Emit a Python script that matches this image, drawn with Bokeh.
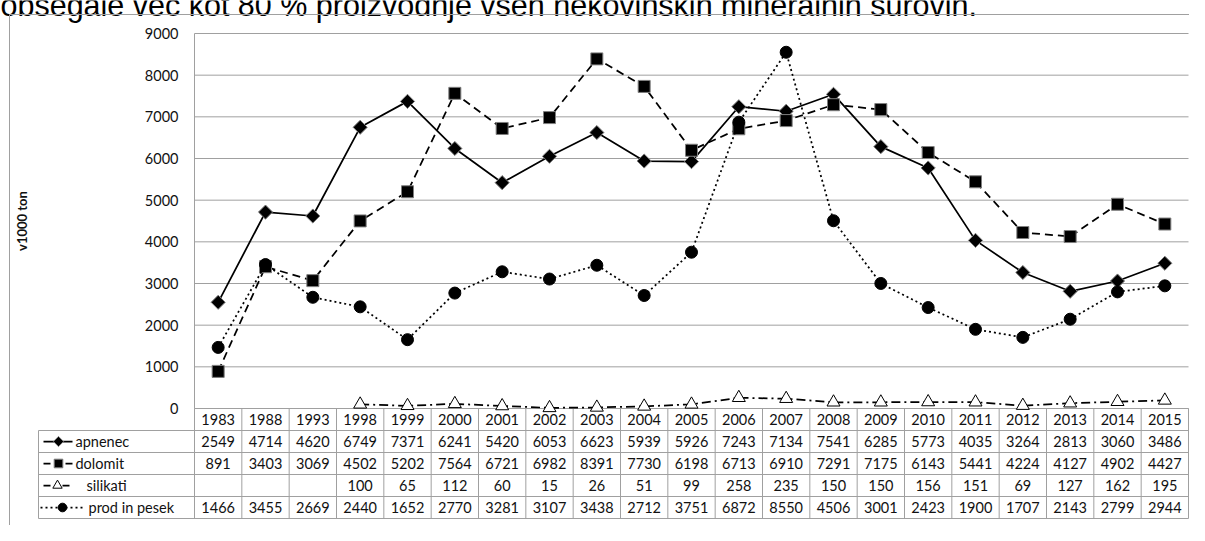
import numpy as np
from bokeh.plotting import figure
from bokeh.models import LinearAxis, FixedTicker, Range1d
from bokeh.core.properties import value
from bokeh.embed import file_html
from bokeh.resources import INLINE

# ---------------- data ----------------
years = ["1983", "1988", "1993", "1998", "1999", "2000", "2001", "2002", "2003", "2004",
         "2005", "2006", "2007", "2008", "2009", "2010", "2011", "2012", "2013", "2014", "2015"]
apnenec = [2549, 4714, 4620, 6749, 7371, 6241, 5420, 6053, 6623, 5939, 5926,
           7243, 7134, 7541, 6285, 5773, 4035, 3264, 2813, 3060, 3486]
dolomit = [891, 3403, 3069, 4502, 5202, 7564, 6721, 6982, 8391, 7730, 6198,
           6713, 6910, 7291, 7175, 6143, 5441, 4224, 4127, 4902, 4427]
silikati = [None, None, None, 100, 65, 112, 60, 15, 26, 51, 99,
            258, 235, 150, 150, 156, 151, 69, 127, 162, 195]
prod_in_pesek = [1466, 3455, 2669, 2440, 1652, 2770, 3281, 3107, 3438, 2712, 3751,
                 6872, 8550, 4506, 3001, 2423, 1900, 1707, 2143, 2799, 2944]
series_names = ["apnenec", "dolomit", "silikati", "prod in pesek"]
y_ticks = [0, 1000, 2000, 3000, 4000, 5000, 6000, 7000, 8000, 9000]
y_label = "v1000 ton"
caption = "obsegale več kot 80 % proizvodnje vseh nekovinskih mineralnih surovin."

# ---------------- layout (canvas pixels) ----------------
W, H = 1189, 525
COL_L, COL_R = 194, 1188
NCOL = len(years)
CW = (COL_R - COL_L) / NCOL
Y0_PX, Y9_PX = 408, 33
PPU = (Y0_PX - Y9_PX) / 9000.0


def X(px):
    return -0.5 + (px - COL_L) / CW


def Y(py):
    return (Y0_PX - py) / PPU


FONT = "Lato"
FS = "14.5px"
GRID = "#a0a0a0"
TXT = "#111111"

p = figure(width=W, height=H,
           x_range=Range1d(X(0), X(W)), y_range=Range1d(Y(H), Y(0)),
           output_backend="svg", toolbar_location=None,
           x_axis_location=None, y_axis_location=None, title=None,
           min_border=0, min_border_left=0, min_border_right=0,
           min_border_top=0, min_border_bottom=0,
           outline_line_color=None, background_fill_color="white",
           border_fill_color="white")
p.xgrid.visible = False
p.ygrid.visible = False

xs = list(range(NCOL))
top_val = y_ticks[-1]

# caption remnant (cut by the top edge, as in the reference) and outer chart border
p.text(x=[X(0)], y=[Y(4)], text=[caption], text_font=value("Liberation Sans"),
       text_font_size="30.5px", text_color="black", text_baseline="alphabetic",
       text_align="left")
p.segment(x0=[X(9), X(9)], y0=[Y(14), Y(14)], x1=[X(W), X(9)], y1=[Y(14), Y(H)],
          line_color=GRID, line_width=1)

# horizontal gridlines (plot area)
p.segment(x0=[-0.5] * len(y_ticks), x1=[NCOL - 0.5] * len(y_ticks),
          y0=y_ticks, y1=y_ticks, line_color=GRID, line_width=1)

# y axis
yaxis = LinearAxis(fixed_location=-0.5, ticker=FixedTicker(ticks=y_ticks),
                   bounds=(0, top_val), axis_label=y_label)
yaxis.axis_line_color = GRID
yaxis.major_tick_out = 0
yaxis.major_tick_in = 0
yaxis.minor_tick_out = 0
yaxis.minor_tick_in = 0
yaxis.major_label_standoff = 16
yaxis.major_label_text_font = FONT
yaxis.major_label_text_font_size = FS
yaxis.major_label_text_color = TXT
yaxis.axis_label_text_font = FONT
yaxis.axis_label_text_font_size = "13px"
yaxis.axis_label_text_font_style = "bold"
yaxis.axis_label_text_color = TXT
yaxis.axis_label_standoff = 112
p.add_layout(yaxis, "left")

# ---------------- data table ----------------
row_lines = [408, 430, 452, 474, 496, 518]
row_centers = [(row_lines[i] + row_lines[i + 1]) / 2 for i in range(5)]
LAB_L = 38
hx0 = [X(COL_L)] + [X(LAB_L)] * 5
hx1 = [X(COL_R)] * 6
hy = [Y(v) for v in row_lines]
p.segment(x0=hx0, x1=hx1, y0=hy, y1=hy, line_color=GRID, line_width=1)
vx = [k - 0.5 for k in range(NCOL + 1)]
p.segment(x0=vx, x1=vx, y0=[Y(row_lines[0])] * len(vx), y1=[Y(row_lines[-1])] * len(vx),
          line_color=GRID, line_width=1)
p.segment(x0=[X(LAB_L)], x1=[X(LAB_L)], y0=[Y(row_lines[1])], y1=[Y(row_lines[-1])],
          line_color=GRID, line_width=1)

# header (categories)
p.text(x=xs, y=[Y(row_centers[0])] * NCOL, text=years, text_align="center",
       text_baseline="middle", text_font=value(FONT), text_font_size=FS, text_color=TXT)

all_series = [apnenec, dolomit, silikati, prod_in_pesek]
for i, ser in enumerate(all_series):
    labels = ["" if v is None else str(v) for v in ser]
    p.text(x=xs, y=[Y(row_centers[i + 1])] * NCOL, text=labels, text_align="center",
           text_baseline="middle", text_font=value(FONT), text_font_size=FS, text_color=TXT)

# ---------------- series ----------------
styles = [
    dict(dash="solid", marker="square", angle=np.pi / 4, size=10, fill="black", mline="#7f7f7f"),
    dict(dash="8 5", marker="square", angle=0.0, size=12, fill="black", mline="#7f7f7f"),
    dict(dash="9 4 2 4", marker="triangle", angle=0.0, size=13, fill="white", mline="black"),
    dict(dash="2 3", marker="circle", angle=0.0, size=12, fill="black", mline="black"),
]
for ser, st in zip(all_series, styles):
    yv = np.array([np.nan if v is None else v for v in ser], dtype=float)
    p.line(xs, yv, line_color="black", line_width=1.75, line_dash=st["dash"])
    msk = ~np.isnan(yv)
    p.scatter(np.array(xs)[msk], yv[msk], marker=st["marker"], angle=st["angle"],
              size=st["size"], fill_color=st["fill"], line_color=st["mline"], line_width=1)

# legend keys in the table's label column
key_geo = [  # (line x0, line x1, marker x, text x, dash)
    (43, 72, 58, 75, "solid"),
    (43, 72, 58, 75, "7 15"),
    (43, 69, 57, 86, "7 12"),
    (40, 84, 62, 88, "2 3"),
]
for i, (name, st, g) in enumerate(zip(series_names, styles, key_geo)):
    cy = Y(row_centers[i + 1])
    p.line([X(g[0]), X(g[1])], [cy, cy], line_color="black", line_width=1.75, line_dash=g[4])
    p.scatter([X(g[2])], [cy], marker=st["marker"], angle=st["angle"],
              size=st["size"] * 0.72, fill_color=st["fill"], line_color=st["mline"], line_width=1)
    p.text(x=[X(g[3])], y=[cy], text=[name], text_align="left", text_baseline="middle",
           text_font=value(FONT), text_font_size=FS, text_color=TXT)

open("out.html", "w").write(file_html(p, INLINE))
